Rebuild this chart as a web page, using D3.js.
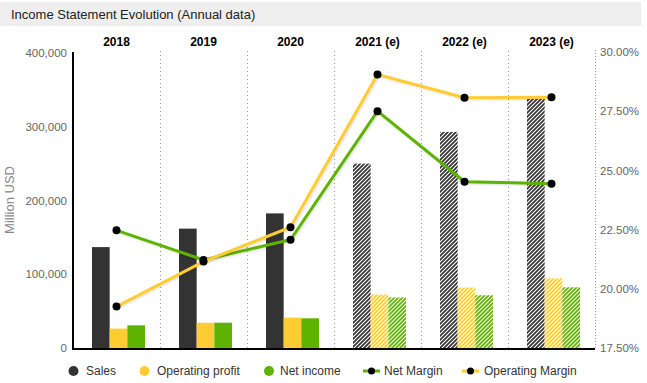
<!DOCTYPE html>
<html>
<head>
<meta charset="utf-8">
<script src="https://cdn.jsdelivr.net/npm/d3@7/dist/d3.min.js"></script>
<style>
  html, body { margin: 0; padding: 0; background: #fff; }
  svg { display: block; font-family: "Liberation Sans", Arial, sans-serif; }
</style>
</head>
<body>
<svg id="chart" width="647" height="383"></svg>
<script>
const years = ["2018", "2019", "2020", "2021 (e)", "2022 (e)", "2023 (e)"];
const estimated = [false, false, false, true, true, true];
const sales = [136819, 161857, 182527, 250000, 293000, 338000];
const operatingProfit = [26300, 34231, 41224, 72500, 82000, 94500];
const netIncome = [30736, 34343, 40269, 68500, 71500, 82300];
const netMargin = [22.47, 21.22, 22.07, 27.5, 24.52, 24.44];
const operatingMargin = [19.25, 21.15, 22.6, 29.05, 28.07, 28.09];
const leftTicks = [0, 100000, 200000, 300000, 400000];
const rightTicks = [17.5, 20, 22.5, 25, 27.5, 30];
const seriesNames = ["Sales", "Operating profit", "Net income"];
const colors = { "Sales": "#333333", "Operating profit": "#ffcc33", "Net income": "#5db300" };

(function () {
const svg = d3.select("#chart");
const defs = svg.append("defs");

// hatch patterns
Object.entries(colors).forEach(([k, c], i) => {
  const p = defs.append("pattern").attr("id", "hatch" + i)
    .attr("patternUnits", "userSpaceOnUse").attr("width", 4).attr("height", 4);
  p.append("rect").attr("width", 4).attr("height", 4).attr("fill", "#fff");
  p.append("path").attr("d", "M-1,1 L1,-1 M0,4 L4,0 M3,5 L5,3")
    .attr("stroke", c).attr("stroke-width", 1.7);
});
const f = defs.append("filter").attr("id", "shadow").attr("x", "-10%").attr("y", "-10%").attr("width", "120%").attr("height", "130%");
f.append("feDropShadow").attr("dx", 1).attr("dy", 1).attr("stdDeviation", 1).attr("flood-color", "#000").attr("flood-opacity", 0.15);

// title bar
svg.append("rect").attr("x", 0).attr("y", 2).attr("width", 641).attr("height", 24).attr("fill", "#eeeeee");
svg.append("text").attr("x", 11).attr("y", 19).attr("font-size", 13).attr("fill", "#222")
  .text("Income Statement Evolution (Annual data)");

const pLeft = 73, pRight = 595, pTop = 53, pBottom = 348;
const x = d3.scaleBand().domain(years).range([pLeft, pRight]).padding(0);
const xi = d3.scaleBand().domain(seriesNames).range([19, 72]).padding(0);
const y = d3.scaleLinear().domain([0, 400000]).range([pBottom, pTop]);
const y2 = d3.scaleLinear().domain([17.5, 30]).range([pBottom, 52]);

// separators
svg.append("g").selectAll("line").data(years.slice(1)).join("line")
  .attr("x1", d => Math.round(x(d)) + 0.5).attr("x2", d => Math.round(x(d)) + 0.5)
  .attr("y1", 51).attr("y2", pBottom)
  .attr("stroke", "#999").attr("stroke-dasharray", "1,3");

// year labels
svg.append("g").selectAll("text").data(years).join("text")
  .attr("x", d => x(d) + x.bandwidth() / 2).attr("y", 46)
  .attr("text-anchor", "middle").attr("font-size", 12).attr("font-weight", "bold").attr("fill", "#000")
  .text(d => d);

// bars
const seriesData = { "Sales": sales, "Operating profit": operatingProfit, "Net income": netIncome };
seriesNames.forEach((s, si) => {
  svg.append("g").selectAll("rect").data(years).join("rect")
    .attr("x", d => x(d) + xi(s))
    .attr("width", xi.bandwidth())
    .attr("y", (d, i) => y(seriesData[s][i]))
    .attr("height", (d, i) => pBottom - y(seriesData[s][i]))
    .attr("fill", (d, i) => estimated[i] ? `url(#hatch${si})` : colors[s]);
});

// left axis
const gl = svg.append("g").attr("transform", `translate(${pLeft},0)`)
  .call(d3.axisLeft(y).tickValues(leftTicks).tickFormat(d3.format(",")).tickSize(0).tickPadding(6));
gl.select(".domain").attr("stroke", "#000").attr("stroke-width", 2).attr("d", `M0,${pTop - 1}V${pBottom}`);
gl.selectAll("text").attr("font-size", 11.5).attr("fill", "#666").attr("font-family", "Liberation Sans, Arial, sans-serif");

// right axis
const gr = svg.append("g").attr("transform", `translate(${pRight},0)`)
  .call(d3.axisRight(y2).tickValues(rightTicks).tickFormat(d => d.toFixed(2) + "%").tickSize(0).tickPadding(5));
gr.select(".domain").attr("stroke", "#999").attr("stroke-dasharray", "1,2").attr("d", `M0.5,50V${pBottom}`);
gr.selectAll("text").attr("font-size", 11.5).attr("fill", "#666").attr("font-family", "Liberation Sans, Arial, sans-serif");

// bottom axis line
svg.append("line").attr("x1", pLeft - 1).attr("x2", pRight).attr("y1", pBottom + 1).attr("y2", pBottom + 1)
  .attr("stroke", "#000").attr("stroke-width", 2);

// y axis title
svg.append("text").attr("transform", "translate(14,200) rotate(-90)")
  .attr("text-anchor", "middle").attr("font-size", 13).attr("fill", "#888").text("Million USD");

// lines
const cx = d => x(d) + x.bandwidth() / 2;
[[netMargin, colors["Net income"]], [operatingMargin, colors["Operating profit"]]].forEach(([vals, c]) => {
  const line = d3.line().x((d, i) => cx(years[i])).y(d => y2(d));
  svg.append("path").datum(vals).attr("d", line).attr("fill", "none")
    .attr("stroke", c).attr("stroke-width", 3).attr("filter", "url(#shadow)");
  svg.append("g").selectAll("circle").data(vals).join("circle")
    .attr("cx", (d, i) => cx(years[i])).attr("cy", d => y2(d)).attr("r", 4).attr("fill", "#000");
});

// legend
const ly = 371;
const leg = svg.append("g").attr("font-size", 12).attr("fill", "#333");
const dotItems = [["Sales", 73.5, 86], ["Operating profit", 144.5, 157], ["Net income", 269, 280]];
dotItems.forEach(([n, cxp, tx]) => {
  leg.append("circle").attr("cx", cxp).attr("cy", ly).attr("r", 5).attr("fill", colors[n]);
  leg.append("text").attr("x", tx).attr("y", ly + 4).text(n);
});
const lineItems = [["Net Margin", 363, colors["Net income"], 384], ["Operating Margin", 462, colors["Operating profit"], 484]];
lineItems.forEach(([n, x0, c, tx]) => {
  leg.append("line").attr("x1", x0).attr("x2", x0 + 17).attr("y1", ly).attr("y2", ly).attr("stroke", c).attr("stroke-width", 3);
  leg.append("circle").attr("cx", x0 + 8.5).attr("cy", ly).attr("r", 3.5).attr("fill", "#000");
  leg.append("text").attr("x", tx).attr("y", ly + 4).text(n);
});
})();
</script>
</body>
</html>
